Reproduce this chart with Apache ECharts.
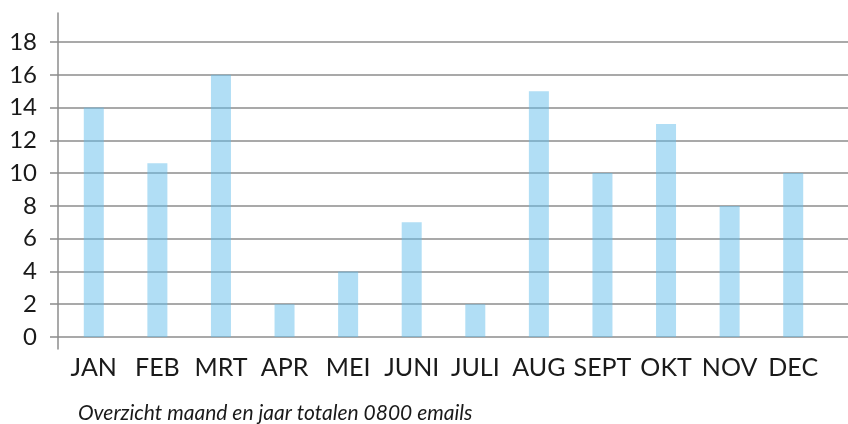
<!DOCTYPE html>
<html>
<head>
<meta charset="utf-8">
<script src="https://cdn.jsdelivr.net/npm/echarts@6/dist/echarts.min.js"></script>
<style>html,body{margin:0;padding:0;background:#fff}#c{width:848px;height:424px}</style>
</head>
<body>
<div id="c"></div>
<script>
var categories = ['JAN','FEB','MRT','APR','MEI','JUNI','JULI','AUG','SEPT','OKT','NOV','DEC'];
var values = [14, 10.6, 16, 2, 4, 7, 2, 15, 10, 13, 8, 10];
var yMin = 0, yMax = 18, yStep = 2;
var caption = 'Overzicht maand en jaar totalen 0800 emails';

var font = 'Lato, "Noto Sans", sans-serif';
var gray = '#8c8c8c';
var chart = echarts.init(document.getElementById('c'), null, {renderer: 'canvas'});
chart.setOption({
  animation: false,
  backgroundColor: '#fff',
  title: {
    text: caption, left: 73, top: 398,
    textStyle: {fontFamily: font, fontStyle: 'italic', fontWeight: 'normal', fontSize: 21, color: '#1a1a1a'}
  },
  grid: [
    {left: 58, right: 0, top: 13, bottom: 75},
    {left: 58, right: 0, top: 42, bottom: 87},
    {left: 62, right: 23, top: 42, bottom: 87}
  ],
  xAxis: [
    {gridIndex: 0, type: 'value', show: false},
    {gridIndex: 1, type: 'value', show: false},
    {gridIndex: 2, type: 'category', data: categories,
     axisLine: {show: false}, axisTick: {show: false},
     axisLabel: {fontFamily: font, fontSize: 25, color: '#1a1a1a', margin: 18, interval: 0}}
  ],
  yAxis: [
    {gridIndex: 0, type: 'value', min: 0, max: 1,
     axisLine: {show: true, lineStyle: {color: gray, width: 1.5}},
     axisTick: {show: false}, axisLabel: {show: false}, splitLine: {show: false}},
    {gridIndex: 1, type: 'value', min: yMin, max: yMax, interval: yStep,
     axisLine: {show: false},
     axisTick: {show: true, length: 8, lineStyle: {color: gray, width: 1.5}},
     axisLabel: {fontFamily: font, fontSize: 24, color: '#1a1a1a', margin: 21},
     splitLine: {show: true, lineStyle: {color: gray, width: 1.5}}},
    {gridIndex: 2, type: 'value', min: yMin, max: yMax, show: false}
  ],
  series: [{
    type: 'bar', xAxisIndex: 2, yAxisIndex: 2, data: values, barWidth: 20,
    itemStyle: {color: 'rgba(100,190,235,0.5)'}
  }]
});
</script>
</body>
</html>
